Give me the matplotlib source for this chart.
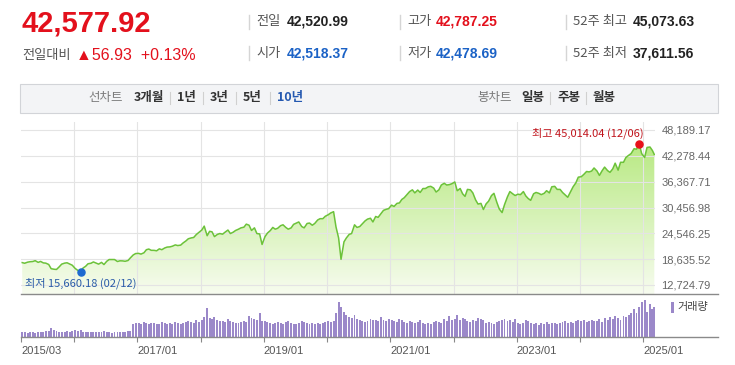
import datetime as dt
import numpy as np
import matplotlib
matplotlib.use('Agg')
import matplotlib.pyplot as plt
import matplotlib.dates as mdates
from matplotlib.patches import Rectangle
from matplotlib.lines import Line2D
from matplotlib.colors import to_rgb

plt.rcParams['font.family'] = ['Noto Sans CJK KR', 'DejaVu Sans']

# 지수 (반월 단위 종가, 2015/03 ~ 2025/03)
close_2015 = [17850, 17700, 17950, 18050, 18100, 18290, 17900, 18120, 17780, 17730,
              17420, 16460, 16330, 16280, 16900, 17500, 17730, 17810, 17500, 17250]
close_2016 = [16500, 16100, 15660, 16600, 17000, 17580, 17700, 18000, 17740, 17500, 17900, 17400,
              18150, 18550, 18540, 18550, 18100, 18260, 18240, 18150, 18330, 18950, 19600, 19920]
close_2017 = [19960, 19800, 20100, 20800, 20950, 20660, 20650, 20550, 21000, 20800, 21200, 21400,
              21450, 21600, 21900, 21750, 21850, 22350, 22800, 23300, 23500, 23600, 24300, 24750]
close_2018 = [25300, 26200, 24000, 25000, 24900, 23800, 24300, 24500, 24350, 24800, 25300, 24500,
              24800, 25200, 25500, 25800, 25950, 26650, 26400, 25200, 25800, 24500, 24400, 22000]
close_2019 = [23800, 24600, 25200, 25900, 25500, 25700, 26300, 26500, 25900, 25500, 25800, 26600,
              26900, 27150, 26100, 25800, 26800, 26900, 26400, 26800, 27600, 27900, 27900, 28450]
close_2020 = [28800, 29200, 29500, 26000, 23500, 18600, 22600, 23500, 24300, 24500, 26500, 25900,
              26100, 26700, 27400, 27800, 28000, 27150, 28400, 28200, 29100, 29800, 30050, 30200]
close_2021 = [31000, 30700, 31400, 31500, 32300, 32700, 33450, 34100, 34500, 33800, 34450, 33900,
              34800, 34800, 35200, 35300, 34900, 34000, 34500, 35600, 36000, 35600, 35700, 35900]
close_2022 = [36300, 34300, 34800, 33600, 33000, 34600, 34500, 33800, 32200, 31250, 31400, 30000,
              31300, 31900, 33200, 33700, 31600, 30100, 29300, 31100, 32900, 34100, 33600, 33200]
close_2023 = [33500, 33400, 34100, 33100, 32500, 32100, 33600, 33900, 33700, 33400, 33700, 34300,
              33800, 35200, 35300, 34600, 34600, 33900, 33300, 32800, 34100, 35200, 36100, 37400]
close_2024 = [37500, 38000, 38700, 38600, 38800, 39500, 38800, 37800, 38900, 39700, 38900, 38500,
              39300, 40600, 39000, 40800, 40800, 41900, 42400, 42800, 43900, 43800, 45014.04, 42800]
close_2025 = [41900, 44200, 44300, 43500, 42577.92]

# 거래량 (상대값)
vol_2015 = [5, 5, 4, 5, 5, 4, 5, 5, 5, 6, 6, 9, 7, 6, 5, 5, 5, 6, 5, 6]
vol_2016 = [7, 6, 7, 5, 5, 5, 5, 5, 5, 5, 5, 6, 5, 5, 4, 5, 5, 5, 5, 5, 6, 6, 13, 14]
vol_2017 = [14, 13, 15, 14, 13, 14, 14, 13, 13, 15, 14, 13, 14, 13, 15, 14, 13, 14, 15, 16, 15, 14, 17, 15]
vol_2018 = [17, 20, 29, 19, 18, 20, 17, 16, 16, 15, 18, 16, 15, 14, 14, 15, 16, 15, 21, 19, 18, 17, 24, 16]
vol_2019 = [16, 15, 14, 13, 14, 15, 14, 13, 15, 16, 14, 13, 13, 14, 16, 15, 14, 13, 14, 13, 14, 13, 14, 15]
vol_2020 = [16, 15, 16, 24, 35, 30, 25, 22, 20, 19, 22, 18, 17, 16, 15, 16, 18, 17, 17, 16, 20, 17, 16, 18]
vol_2021 = [17, 16, 15, 18, 17, 15, 14, 16, 15, 14, 15, 17, 14, 13, 14, 13, 15, 16, 15, 14, 18, 16, 21, 17]
vol_2022 = [18, 22, 17, 19, 18, 16, 15, 17, 16, 19, 18, 17, 14, 15, 14, 13, 15, 16, 17, 18, 16, 17, 15, 18]
vol_2023 = [14, 13, 14, 17, 16, 14, 13, 14, 12, 14, 13, 15, 13, 14, 14, 13, 14, 15, 16, 14, 15, 14, 16, 17]
vol_2024 = [16, 17, 15, 16, 17, 16, 16, 18, 15, 19, 17, 20, 18, 21, 19, 17, 21, 20, 22, 24, 28, 24, 30, 35]
vol_2025 = [37, 25, 33, 28, 30]

y_ticks = [12724.79, 18635.52, 24546.25, 30456.98, 36367.71, 42278.44, 48189.17]
x_labels = ['2015/03', '', '2017/01', '', '2019/01', '', '2021/01', '', '2023/01', '', '2025/01']

RED = '#e3101c'
BLUE = '#1b62c6'
GRAY = '#555555'
LINE = '#6cc23a'
VOL = '#9b88c9'

W, H = 735, 365


def fx(x):
    return x / W


def fy(y):
    return 1 - y / H


close = (close_2015 + close_2016 + close_2017 + close_2018 + close_2019 + close_2020 +
         close_2021 + close_2022 + close_2023 + close_2024 + close_2025)
vol = (vol_2015 + vol_2016 + vol_2017 + vol_2018 + vol_2019 + vol_2020 +
       vol_2021 + vol_2022 + vol_2023 + vol_2024 + vol_2025)

# 날짜: 매월 8일, 22일
dates = []
for y in range(2015, 2026):
    for m in range(1, 13):
        if (y, m) < (2015, 3) or (y, m) > (2025, 2):
            continue
        dates.append(dt.date(y, m, 8))
        dates.append(dt.date(y, m, 22))
dates.append(dt.date(2025, 3, 5))
xs = mdates.date2num(dates)
close = np.array(close, dtype=float)

x0 = mdates.date2num(dt.date(2015, 3, 1))
x1 = mdates.date2num(dt.date(2025, 3, 9))
px_val = (y_ticks[-1] - y_ticks[0]) / 155.0
y0 = y_ticks[0] - 9 * px_val
y1 = y_ticks[-1] + 8 * px_val
year_ticks = [x0] + [mdates.date2num(dt.date(y, 1, 1)) for y in range(2016, 2026)]

fig = plt.figure(figsize=(7.35, 3.65), dpi=100)

# ---- 헤더 ----
fig.text(fx(21), fy(23), '42,577.92', fontsize=21, fontweight='bold', color=RED,
         family='Liberation Sans', va='center')
fig.text(fx(22), fy(56), '전일대비', fontsize=9.5, color=GRAY, va='center')
fig.text(fx(76), fy(56), '▲56.93  +0.13%', fontsize=11.5, color=RED, va='center',
         family=['Liberation Sans', 'DejaVu Sans'])

info = [
    (256, 287, 22, '전일', '42,520.99', '#222222'),
    (256, 287, 53, '시가', '42,518.37', BLUE),
    (407, 436, 22, '고가', '42,787.25', RED),
    (407, 436, 53, '저가', '42,478.69', BLUE),
    (573, 633, 22, '52주 최고', '45,073.63', '#222222'),
    (573, 633, 53, '52주 최저', '37,611.56', '#222222'),
]
for lx, vx, yy, lab, val, col in info:
    fig.add_artist(Line2D([fx(lx - 7)] * 2, [fy(yy - 7), fy(yy + 7)], color='#d5d5d5', lw=1))
    fig.text(fx(lx), fy(yy), lab, fontsize=9.5, color=GRAY, va='center')
    fig.text(fx(vx), fy(yy), val, fontsize=10, fontweight='bold', color=col, va='center',
             family='Liberation Sans')

# ---- 탭 ----
fig.add_artist(Rectangle((fx(20), fy(113)), 698 / W, 29 / H, transform=fig.transFigure,
                         facecolor='#f3f4f6', edgecolor='#d2d4d8', lw=0.8))
tabs = [(88, '선차트', '#7a7a7a', 'normal'), (134, '3개월', '#333333', 'bold'),
        (177, '1년', '#333333', 'bold'), (210, '3년', '#333333', 'bold'),
        (243, '5년', '#333333', 'bold'), (277, '10년', '#2458b0', 'bold'),
        (477, '봉차트', '#7a7a7a', 'normal'), (521, '일봉', '#333333', 'bold'),
        (557, '주봉', '#333333', 'bold'), (593, '월봉', '#333333', 'bold')]
for tx, t, c, w in tabs:
    fig.text(fx(tx), fy(98), t, fontsize=9, color=c, fontweight=w, va='center')
for sx in [170, 203, 236, 270, 550, 586]:
    fig.add_artist(Line2D([fx(sx)] * 2, [fy(92), fy(104)], color='#d0d0d0', lw=0.8))

# ---- 지수 차트 ----
ax = fig.add_axes([fx(21), fy(294), 634 / W, 172 / H])
grad = np.zeros((256, 1, 4))
t = np.linspace(0, 1, 256)[:, None]
grad[:, 0, :3] = np.array(to_rgb('#b2e778')) * (1 - t) + np.array(to_rgb('#f7fcef')) * t
grad[:, 0, 3] = 1
im = ax.imshow(grad, extent=[x0, x1, y0, y_ticks[-1]], aspect='auto', origin='upper', zorder=1)
poly = ax.fill_between(xs, close, y0, facecolor='none', edgecolor='none')
im.set_clip_path(poly.get_paths()[0], transform=ax.transData)
ax.plot(xs, close, color=LINE, lw=1.1, zorder=3)

ax.set_xlim(x0, x1)
ax.set_ylim(y0, y1)
ax.set_xticks(year_ticks[1:])
ax.set_yticks(y_ticks)
ax.set_yticklabels(['{:,.2f}'.format(v) for v in y_ticks])
ax.yaxis.tick_right()
ax.tick_params(length=0, labelbottom=False, labelsize=8, labelcolor='#666666', pad=4.5)
for lbl in ax.get_yticklabels():
    lbl.set_family('Liberation Sans')
ax.set_axisbelow(False)
ax.grid(color='#e4e4e4', lw=0.8, zorder=2)
for s in ax.spines.values():
    s.set_visible(False)

# 최고 / 최저
imax = int(np.argmax(close))
imin = int(np.argmin(close))
ax.scatter([xs[imax]], [close[imax]], s=26, color='#e8101a', zorder=5)
ax.scatter([xs[imin]], [close[imin]], s=26, color='#1e6ad0', zorder=5)
ax.annotate('최고 45,014.04 (12/06)', xy=(xs[imax], close[imax]), xytext=(4, 11),
            textcoords='offset pixels', ha='right', va='center', fontsize=8, color='#c0141c')
ax.annotate('최저 15,660.18 (02/12)', xy=(xs[imin], close[imin]), xytext=(-56, -11),
            textcoords='offset pixels', ha='left', va='center', fontsize=8, color='#2a5ca8')

fig.add_artist(Line2D([fx(21), fx(718)], [fy(294)] * 2, color='#8a8a8a', lw=1))

# ---- 거래량 ----
ax2 = fig.add_axes([fx(21), fy(337), 634 / W, 39 / H])
ax2.bar(xs, vol, width=11, color=VOL, linewidth=0)
ax2.set_xlim(x0, x1)
ax2.set_ylim(0, 39)
ax2.set_yticks([])
ax2.set_xticks(year_ticks)
ax2.set_xticklabels(x_labels)
ax2.tick_params(axis='x', length=3.5, color='#888888', labelsize=8, labelcolor=GRAY, pad=3)
for lbl in ax2.get_xticklabels():
    lbl.set_ha('left')
    lbl.set_family('Liberation Sans')
for s in ax2.spines.values():
    s.set_visible(False)
fig.add_artist(Line2D([fx(21), fx(718)], [fy(337)] * 2, color='#8a8a8a', lw=1))

fig.add_artist(Rectangle((fx(671), fy(313)), 3 / W, 11 / H, transform=fig.transFigure,
                         facecolor=VOL, edgecolor='none'))
fig.text(fx(677), fy(307), '거래량', fontsize=8, color='#444444', va='center')

fig.savefig('out.png', dpi=100)
